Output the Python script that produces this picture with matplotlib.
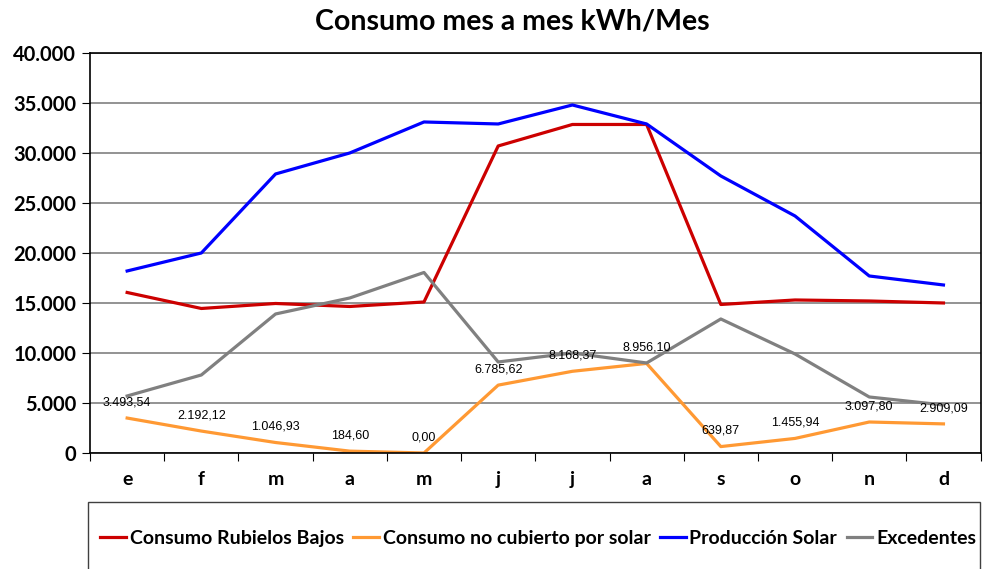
import matplotlib.pyplot as plt
from matplotlib.patches import Rectangle

# datos
meses = ["e", "f", "m", "a", "m", "j", "j", "a", "s", "o", "n", "d"]
consumo = [16050, 14450, 14950, 14650, 15100, 30700, 32850, 32850, 14850, 15300, 15200, 15000]
no_cubierto = [3493.54, 2192.12, 1046.93, 184.60, 0.00, 6785.62, 8168.37, 8956.10,
               639.87, 1455.94, 3097.80, 2909.09]
produccion = [18200, 20000, 27900, 30000, 33100, 32900, 34800, 32900, 27700, 23700, 17700, 16800]
excedentes = [5700, 7800, 13900, 15500, 18050, 9100, 10000, 9000, 13400, 9900, 5600, 4800]

def fmt(v):
    s = "{:,.2f}".format(v)
    return s.replace(",", "X").replace(".", ",").replace("X", ".")

fig = plt.figure(figsize=(9.84, 5.69), dpi=100)
ax = fig.add_axes([0.0915, 0.2039, 0.905, 0.703])

x = range(len(meses))
ax.plot(x, consumo, color="#CC0000", lw=2.3, label="Consumo Rubielos Bajos")
ax.plot(x, no_cubierto, color="#FF9933", lw=2.3, label="Consumo no cubierto por solar")
ax.plot(x, produccion, color="#0000FF", lw=2.3, label="Producción Solar")
ax.plot(x, excedentes, color="#808080", lw=2.3, label="Excedentes")

for i, v in enumerate(no_cubierto):
    ax.annotate(fmt(v), (i, v), xytext=(0, 7), textcoords="offset points",
                ha="center", va="bottom", fontsize=9, family="Liberation Sans")

ax.set_xlim(-0.5, 11.5)
ax.set_ylim(0, 40000)
ax.set_yticks(range(0, 40001, 5000))
ax.set_yticklabels(["0" if t == 0 else "{:,}".format(t).replace(",", ".") for t in range(0, 40001, 5000)],
                   fontsize=14.5, fontweight="bold", family="Lato")
ax.set_xticks([i + 0.5 for i in range(-1, 12)], minor=False)
ax.set_xticklabels([])
ax.set_xticks(list(x), minor=True)
ax.set_xticklabels(meses, minor=True, fontsize=14, fontweight="bold", family="Lato")
ax.tick_params(axis="x", which="minor", length=0, pad=13)
ax.tick_params(axis="x", which="major", length=6, direction="out")
ax.tick_params(axis="y", length=6, direction="out", pad=4)
ax.yaxis.grid(True, color="#808080", lw=1.2)
ax.set_axisbelow(True)
for s in ax.spines.values():
    s.set_color("black")
    s.set_linewidth(1.2)

fig.text(0.521, 0.962, "Consumo mes a mes kWh/Mes", ha="center", va="center",
         fontsize=20.5, fontweight="bold", family="Lato")

fig.patches.append(Rectangle((88 / 984, -0.05), (980 - 88) / 984, (569 - 502) / 569 + 0.05,
                             transform=fig.transFigure, fill=False, ec="#404040", lw=1))
leg = fig.legend(loc="center", bbox_to_anchor=(0.547, 0.054), ncol=4, frameon=False,
                 handlelength=1.3, handletextpad=0.2, columnspacing=0.5,
                 prop={"family": "Lato", "weight": "bold", "size": 14})

fig.savefig("out.png", dpi=100)
